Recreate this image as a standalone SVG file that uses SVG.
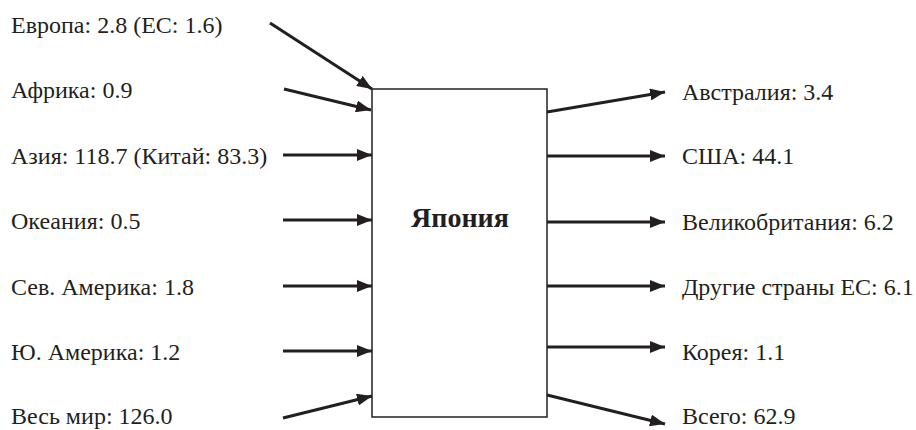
<svg xmlns="http://www.w3.org/2000/svg" width="916" height="430" viewBox="0 0 916 430">
<style>
.t{font-family:"Liberation Serif","Times New Roman",serif;font-size:24px;fill:#231f20}
.c line{stroke:#231f20;stroke-width:3}
.box{fill:#fff;stroke:#231f20;stroke-width:1.5}
.title{font-weight:bold;font-size:28px}
</style>
<defs>
<marker id="ah" viewBox="0 0 15 12" refX="15" refY="6" markerWidth="15" markerHeight="12" markerUnits="userSpaceOnUse" orient="auto">
<path d="M0,0 L15,6 L0,12 Z" fill="#231f20"/>
</marker>
</defs>
<g id="japan">
<rect class="box" x="372" y="89" width="175" height="328"/>
<text class="t title" x="460" y="227" text-anchor="middle">Япония</text>
</g>
<g id="labels-left">
<text class="t" x="11" y="33">Европа: 2.8 (ЕС: 1.6)</text>
<text class="t" x="11" y="98">Африка: 0.9</text>
<text class="t" x="11" y="164">Азия: 118.7 (Китай: 83.3)</text>
<text class="t" x="11" y="229">Океания: 0.5</text>
<text class="t" x="11" y="295">Сев. Америка: 1.8</text>
<text class="t" x="11" y="360">Ю. Америка: 1.2</text>
<text class="t" x="11" y="424">Весь мир: 126.0</text>
</g>
<g id="labels-right">
<text class="t" x="682" y="100">Австралия: 3.4</text>
<text class="t" x="682" y="164">США: 44.1</text>
<text class="t" x="682" y="230">Великобритания: 6.2</text>
<text class="t" x="682" y="295">Другие страны ЕС: 6.1</text>
<text class="t" x="682" y="360">Корея: 1.1</text>
<text class="t" x="682" y="424">Всего: 62.9</text>
</g>
<g id="connectors" class="c">
<line x1="270" y1="23" x2="372" y2="89" marker-end="url(#ah)"/>
<line x1="284" y1="89" x2="371" y2="110" marker-end="url(#ah)"/>
<line x1="283" y1="155" x2="372" y2="155" marker-end="url(#ah)"/>
<line x1="283" y1="220" x2="372" y2="220" marker-end="url(#ah)"/>
<line x1="283" y1="286" x2="372" y2="286" marker-end="url(#ah)"/>
<line x1="283" y1="351" x2="372" y2="351" marker-end="url(#ah)"/>
<line x1="283" y1="418" x2="372" y2="396" marker-end="url(#ah)"/>
<line x1="547" y1="112" x2="665" y2="92" marker-end="url(#ah)"/>
<line x1="547" y1="156" x2="665" y2="156" marker-end="url(#ah)"/>
<line x1="547" y1="222" x2="665" y2="222" marker-end="url(#ah)"/>
<line x1="547" y1="286" x2="665" y2="286" marker-end="url(#ah)"/>
<line x1="547" y1="347" x2="665" y2="347" marker-end="url(#ah)"/>
<line x1="547" y1="395" x2="665" y2="424" marker-end="url(#ah)"/>
</g>
</svg>
